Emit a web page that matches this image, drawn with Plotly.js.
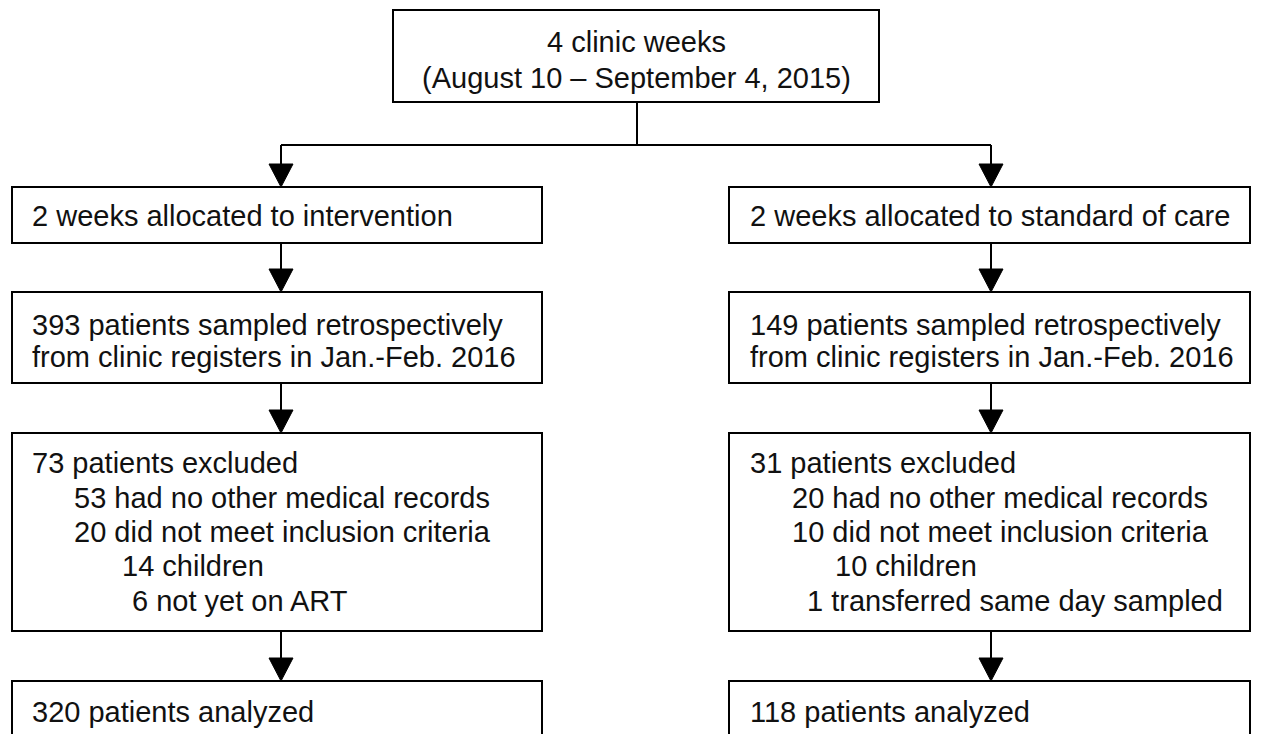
<!DOCTYPE html>
<html>
<head>
<meta charset="utf-8">
<script src="https://cdn.plot.ly/plotly-3.0.1.min.js"></script>
<style>html,body{margin:0;padding:0;background:#fff;}#chart{width:1264px;height:734px;}</style>
</head>
<body>
<div id="chart"></div>
<script>
// Flowchart content
const topLines = ["4 clinic weeks", "(August 10 \u2013 September 4, 2015)"];
const leftAlloc = ["2 weeks allocated to intervention"];
const rightAlloc = ["2 weeks allocated to standard of care"];
const leftSampled = ["393 patients sampled retrospectively", "from clinic registers in Jan.-Feb. 2016"];
const rightSampled = ["149 patients sampled retrospectively", "from clinic registers in Jan.-Feb. 2016"];
const leftExcluded = ["73 patients excluded", "53 had no other medical records", "20 did not meet inclusion criteria", "14 children", "6 not yet on ART"];
const rightExcluded = ["31 patients excluded", "20 had no other medical records", "10 did not meet inclusion criteria", "10 children", "1 transferred same day sampled"];
const leftAnalyzed = ["320 patients analyzed"];
const rightAnalyzed = ["118 patients analyzed"];

// layout geometry
const LW = 2;
const col = {L: {x0: 12, x1: 542, tx: 30, ax: 281}, R: {x0: 729, x1: 1250, tx: 748, ax: 991}};
const rows = [
  {y0: 187, y1: 243, lineY: [216]},
  {y0: 292, y1: 383, lineY: [325, 357]},
  {y0: 433, y1: 631, lineY: [463, 498, 532, 566, 601]},
  {y0: 681, y1: 760, lineY: [712]}
];
const indentL = [0, 42, 42, 90, 100];
const indentR = [0, 42, 42, 85, 57];

const shapes = [];
const annotations = [];
const lineStyle = {color: '#000', width: LW};
function rect(x0, y0, x1, y1) {
  shapes.push({type: 'rect', xref: 'x', yref: 'y', x0, y0, x1, y1, line: lineStyle, fillcolor: 'rgba(0,0,0,0)'});
}
function seg(x0, y0, x1, y1) {
  shapes.push({type: 'line', xref: 'x', yref: 'y', x0, y0, x1, y1, line: lineStyle});
}
function arrow(x, y0, y1) {
  const hw = 12, hh = 23;
  seg(x, y0, x, y1 - hh + 1);
  shapes.push({type: 'path', xref: 'x', yref: 'y',
    path: `M ${x - hw} ${y1 - hh} L ${x + hw} ${y1 - hh} L ${x} ${y1} Z`,
    fillcolor: '#000', line: {color: '#000', width: 1}});
}
const font = {family: 'Liberation Sans, Arial, sans-serif', size: 29, color: '#111'};
function text(t, x, y, anchor) {
  annotations.push({text: t, x, y, xref: 'x', yref: 'y', showarrow: false,
    xanchor: anchor || 'left', yanchor: 'middle', font});
}

// top box
rect(393, 10, 879, 102);
text(topLines[0], 636, 42, 'center');
text(topLines[1], 636, 78, 'center');
seg(637, 102, 637, 145);
seg(281, 145, 991, 145);
arrow(col.L.ax, 145, 187);
arrow(col.R.ax, 145, 187);

const leftTexts = [leftAlloc, leftSampled, leftExcluded, leftAnalyzed];
const rightTexts = [rightAlloc, rightSampled, rightExcluded, rightAnalyzed];
rows.forEach((r, i) => {
  [['L', leftTexts[i], indentL], ['R', rightTexts[i], indentR]].forEach(([side, lines, ind]) => {
    const c = col[side];
    rect(c.x0, r.y0, c.x1, r.y1);
    lines.forEach((t, j) => {
      const off = lines.length === 5 ? ind[j] : 0;
      text(t, c.tx + off, r.lineY[j]);
    });
    if (i < rows.length - 1) arrow(c.ax, r.y1, rows[i + 1].y0);
  });
});

const layout = {
  width: 1264, height: 734,
  margin: {l: 0, r: 0, t: 0, b: 0},
  paper_bgcolor: '#fff', plot_bgcolor: '#fff',
  xaxis: {range: [0, 1264], visible: false, fixedrange: true},
  yaxis: {range: [734, 0], visible: false, fixedrange: true},
  shapes, annotations, showlegend: false
};
Plotly.newPlot('chart', [{x: [], y: [], type: 'scatter'}], layout, {displayModeBar: false, staticPlot: true});
</script>
</body>
</html>
